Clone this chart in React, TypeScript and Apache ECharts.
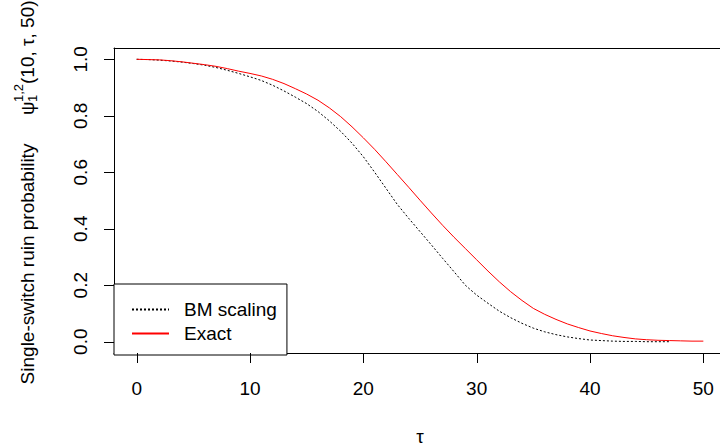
import React, { useEffect, useRef } from "react";
import * as echarts from "echarts";

const tau = [0,1,2,3,4,5,6,7,8,9,10,11,12,13,14,15,16,17,18,19,20,21,22,23,24,25,26,27,28,29,30,31,32,33,34,35,36,37,38,39,40,41,42,43,44,45,46,47,48,49,50];
const exactVals = [1.000,0.999,0.998,0.995,0.991,0.986,0.981,0.975,0.967,0.958,0.950,0.941,0.929,0.914,0.896,0.877,0.855,0.828,0.797,0.761,0.722,0.681,0.637,0.592,0.547,0.501,0.456,0.412,0.370,0.330,0.290,0.250,0.212,0.177,0.146,0.118,0.097,0.079,0.063,0.050,0.038,0.029,0.021,0.015,0.010,0.007,0.005,0.004,0.003,0.002,0.002];
const bmVals = [1.000,0.999,0.997,0.994,0.990,0.985,0.979,0.971,0.961,0.950,0.938,0.925,0.908,0.888,0.866,0.843,0.815,0.782,0.745,0.703,0.655,0.600,0.543,0.486,0.437,0.390,0.343,0.295,0.248,0.200,0.165,0.136,0.108,0.085,0.065,0.048,0.035,0.025,0.017,0.011,0.006,0.004,0.002,0.001,0.001,0.000,0.000,0.000];
const xTicks = [0,10,20,30,40,50];
const yTicks = [0,0.2,0.4,0.6,0.8,1.0];
const seriesNames = ["BM scaling","Exact"];

const FONT = "'Liberation Sans', Arial, sans-serif";
const FS = 19;

// plot region (R style: data range padded by 4%)
const XMIN = -2, XMAX = 52, YMIN = -0.04, YMAX = 1.04;
const TICK = 10;

export default function App() {
  const ref = useRef<HTMLDivElement>(null);
  useEffect(() => {
    if (!ref.current) return;
    const chart = echarts.init(ref.current, null, { renderer: "svg" });
    const bmData = bmVals.map((v, i) => [tau[i], v]);
    const exData = exactVals.map((v, i) => [tau[i], v]);
    const ls = () => ({ color: "#000", width: 1 });
    const labelGroup = {
      type: "group", x: 27, y: 200, rotation: Math.PI / 2,
      children: [
        { type: "text", x: -64, y: 0, style: { text: "Single-switch ruin probability", fontSize: FS, fontFamily: FONT, fill: "#000", textAlign: "center", textVerticalAlign: "middle" } },
        { type: "text", x: 85, y: 0, style: { text: "ψ", fontSize: FS, fontFamily: FONT, fill: "#000", textAlign: "left", textVerticalAlign: "middle" } },
        { type: "text", x: 98, y: -9, style: { text: "1,2", fontSize: 13, fontFamily: FONT, fill: "#000", textAlign: "left", textVerticalAlign: "middle" } },
        { type: "text", x: 98, y: 5, style: { text: "1", fontSize: 13, fontFamily: FONT, fill: "#000", textAlign: "left", textVerticalAlign: "middle" } },
        { type: "text", x: 116, y: 0, style: { text: "(10, τ, 50)", fontSize: FS, fontFamily: FONT, fill: "#000", textAlign: "left", textVerticalAlign: "middle" } },
      ],
    };
    chart.setOption({
      animation: false,
      backgroundColor: "#fff",
      textStyle: { fontFamily: FONT },
      grid: { left: 114, top: 48, width: 612, height: 305, outerBoundsMode: "none", containLabel: false, show: false },
      xAxis: [
        {
          type: "value", min: XMIN, max: XMAX, position: "bottom",
          axisLine: { show: true, onZero: false, lineStyle: ls() },
          splitLine: { show: false },
          axisTick: { show: false },
          axisLabel: { show: true, customValues: xTicks, margin: 26, fontSize: FS, color: "#000", fontFamily: FONT },
          name: "τ", nameLocation: "middle", nameGap: 75,
          nameTextStyle: { fontSize: FS, lineHeight: 16, color: "#000", fontFamily: FONT },
        },
        {
          type: "value", min: XMIN, max: XMAX, position: "top",
          axisLine: { show: true, onZero: false, lineStyle: ls() },
          splitLine: { show: false }, axisTick: { show: false }, axisLabel: { show: false },
        },
      ],
      yAxis: {
        type: "value", min: YMIN, max: YMAX, position: "left",
        axisLine: { show: true, onZero: false, lineStyle: ls() },
        splitLine: { show: false },
        axisTick: { show: false },
        axisLabel: { show: true, customValues: yTicks, rotate: 90, margin: 24, fontSize: FS, color: "#000", fontFamily: FONT, formatter: (v: number) => v.toFixed(1) },
      },
      legend: {
        data: seriesNames,
        orient: "vertical",
        left: 114, top: 284,
        itemWidth: 37, itemHeight: 14, itemGap: 5,
        padding: [16, 10, 12, 17],
        backgroundColor: "#fff",
        borderColor: "#000", borderWidth: 1, borderRadius: 0,
        itemStyle: { opacity: 0 },
        textStyle: { fontSize: FS, color: "#000", fontFamily: FONT, padding: [0, 0, 0, 10] },
        z: 10,
      },
      graphic: [labelGroup],
      series: [
        { name: seriesNames[0], type: "line", data: bmData, symbol: "none", showSymbol: false, smooth: false, lineStyle: { color: "#000", width: 1, type: [2, 2] }, itemStyle: { color: "#000" } },
        { name: seriesNames[1], type: "line", data: exData, symbol: "none", showSymbol: false, smooth: false, lineStyle: { color: "#ff0000", width: 1 }, itemStyle: { color: "#ff0000" } },
      ],
    });
    // tick marks placed through the grid's own scales
    const tickEls: any[] = [];
    xTicks.forEach((v) => {
      const p = chart.convertToPixel({ gridIndex: 0 }, [v, YMIN]) as number[];
      const x = Math.round(p[0]) + 0.5, y = Math.round(p[1]);
      tickEls.push({ type: "rect", z: 100, silent: true, shape: { x: x - 0.5, y: y, width: 1, height: TICK }, style: { fill: "#000" } });
    });
    yTicks.forEach((v) => {
      const p = chart.convertToPixel({ gridIndex: 0 }, [XMIN, v]) as number[];
      const x = Math.round(p[0]), y = Math.round(p[1]);
      tickEls.push({ type: "rect", z: 100, silent: true, shape: { x: x - TICK, y: y, width: TICK, height: 1 }, style: { fill: "#000" } });
    });
    chart.setOption({ graphic: [labelGroup, ...tickEls] });
    return () => chart.dispose();
  }, []);
  return <div ref={ref} style={{ position: "fixed", left: 0, top: 0, width: 720, height: 445 }} />;
}
